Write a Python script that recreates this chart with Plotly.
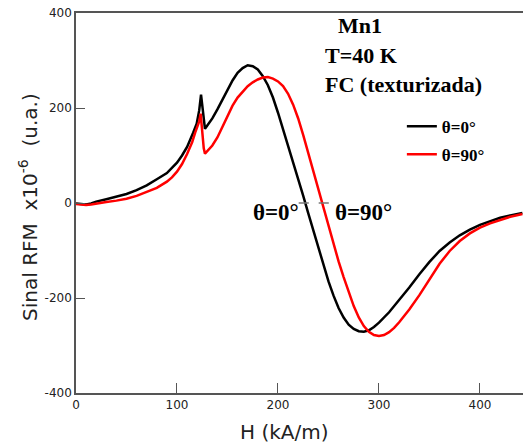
import plotly.graph_objects as go

# ---- data ----
h_0 = [0, 5, 10, 15, 20, 30, 40, 50, 60, 70, 80, 90, 100, 105, 110, 113, 116, 119.5, 122, 123.8,
       125, 126.5, 127.7, 130, 135, 140, 145, 150, 155, 160, 165, 170, 175, 180, 185, 190, 195,
       200, 205, 210, 215, 220, 225, 230, 235, 240, 245, 250, 255, 260, 265, 270, 275, 280, 285,
       290, 295, 300, 310, 320, 330, 340, 350, 360, 370, 380, 390, 400, 410, 420, 430, 442]
s_0 = [-1, -2, -3, -1, 3, 8, 13, 19, 27, 37, 50, 63, 85, 100, 118, 132, 148, 167, 195, 228,
       205, 170, 156, 163, 178, 197, 218, 240, 258, 274, 284, 290, 288, 281, 267, 248, 222,
       190, 156, 121, 86, 51, 15, -22, -58, -95, -131, -165, -195, -221, -241, -256, -265, -270, -271,
       -268, -261, -252, -230, -205, -178, -150, -124, -101, -83, -68, -56, -46, -38, -31, -26, -21]

h_90 = [0, 5, 10, 15, 20, 25, 30, 40, 50, 60, 70, 80, 90, 95, 100, 105, 110, 115, 118, 120, 122, 123.4,
        125, 126.5, 127.7, 130, 135, 140, 145, 150, 155, 160, 165, 170, 175, 180, 185, 190, 195,
        200, 205, 210, 215, 220, 225, 230, 235, 240, 245, 250, 255, 260, 265, 270, 275, 280, 285,
        290, 295, 300, 305, 310, 315, 320, 330, 340, 350, 360, 370, 380, 390, 400, 410, 420, 430, 442]
s_90 = [-2, -3, -4, -3, -1, 0, 2, 5, 9, 15, 23, 32, 45, 54, 66, 82, 103, 128, 148, 160, 172, 188,
        150, 115, 104, 110, 121, 138, 160, 183, 205, 222, 235, 246, 254, 260, 264, 265, 262,
        256, 246, 230, 207, 178, 143, 105, 66, 27, -12, -51, -89, -123, -156, -188, -217, -241, -259,
        -271, -278, -280, -278, -272, -263, -251, -224, -194, -160, -128, -101, -80, -64, -52, -43, -36, -29, -23]

x_ticks = [0, 100, 200, 300, 400]
y_ticks = [-400, -200, 0, 200, 400]
y_tick_labels = ["-400", "-200", "0", "200", "400"]
series_names = ["θ=0°", "θ=90°"]
x_title = "H (kA/m)"
y_title = "Sinal RFM  x10<sup>-6</sup>  (u.a.)"

SERIF = "Liberation Serif"
SANS = "DejaVu Sans"

fig = go.Figure()
fig.add_trace(go.Scatter(x=h_0, y=s_0, mode="lines", name="<b>" + series_names[0] + "</b>",
                         legendgroup="a", line=dict(color="black", width=2.5)))
fig.add_trace(go.Scatter(x=h_90, y=s_90, mode="lines", name="<b>" + series_names[1] + "</b>",
                         legendgroup="b", line=dict(color="#ff0000", width=2.5)))

# short grey marks near y=0
for xa, xb in [(220.5, 230.5), (240.3, 250.3)]:
    fig.add_shape(type="line", x0=xa, x1=xb, y0=0, y1=0, xref="x", yref="y",
                  line=dict(color="#777777", width=1.5))

def ann(text, x, y, size, xanchor="left"):
    fig.add_annotation(text="<b>" + text + "</b>", x=x, y=y, xref="x", yref="y",
                       showarrow=False, xanchor=xanchor, yanchor="middle",
                       font=dict(family=SERIF, size=size, color="black"))

ann("Mn1", 281, 374, 22, xanchor="center")
ann("T=40 K", 244.5, 310, 22)
ann("FC (texturizada)", 244.5, 250, 22)
ann(series_names[0], 173, -20, 23)
ann(series_names[1], 254, -20, 23)

# axis titles
fig.add_annotation(text=y_title, xref="paper", yref="paper", x=-0.107, y=0.49,
                   textangle=-90, showarrow=False, xanchor="center", yanchor="middle",
                   font=dict(family=SANS, size=20, color="#222222"))
fig.add_annotation(text=x_title, xref="paper", yref="paper", x=0.467, y=-0.102,
                   showarrow=False, xanchor="center", yanchor="middle",
                   font=dict(family=SANS, size=20, color="#222222"))

fig.update_layout(
    width=523, height=445,
    margin=dict(l=76, r=0, t=13, b=52),
    plot_bgcolor="white", paper_bgcolor="white",
    showlegend=True,
    legend=dict(x=0.729, y=0.664, xanchor="left", yanchor="middle",
                bgcolor="rgba(0,0,0,0)", font=dict(family=SERIF, size=17, color="black"),
                tracegroupgap=3, itemwidth=30),
    xaxis=dict(range=[0, 442.6], tickvals=x_ticks, ticks="inside", ticklen=10,
               showgrid=False, zeroline=False, showline=True, mirror=True,
               linecolor="#555555", linewidth=1.5, tickcolor="#555555", tickwidth=1,
               tickfont=dict(family=SANS, size=12, color="#222222")),
    yaxis=dict(range=[-400, 400], tickvals=y_ticks, ticktext=y_tick_labels, ticks="inside", ticklen=9,
               showgrid=False, zeroline=False, showline=True, mirror=False,
               linecolor="#555555", linewidth=1.5, tickcolor="#555555", tickwidth=1,
               tickfont=dict(family=SANS, size=12, color="#222222")),
)

fig.write_html("out.html")
